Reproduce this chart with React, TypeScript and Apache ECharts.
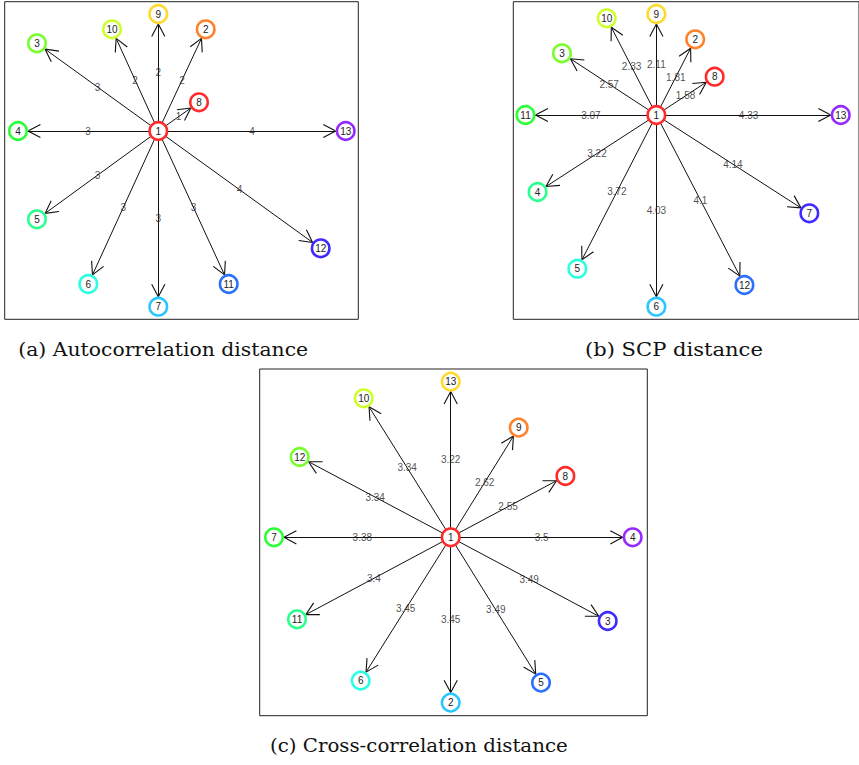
import React, { useEffect, useRef } from 'react';
import * as echarts from 'echarts';

// Panel (a) Autocorrelation distance — nodes in rank order (nearest first)
const autoNodes = ['8', '2', '9', '10', '3', '4', '5', '6', '7', '11', '12', '13'];
const autoDist = [1, 2, 2, 2, 3, 3, 3, 3, 3, 3, 4, 4];
const autoX = [40.7, 47.4, 0, -46.3, -121.3, -140.3, -121.3, -70, 0, 70.4, 162.4, 187.4];
const autoY = [28.7, 101.7, 117, 101.7, 87.7, 0, -88.3, -153, -175.7, -153, -117.3, 0];

// Panel (b) SCP distance
const scpNodes = ['8', '2', '9', '10', '3', '11', '4', '5', '6', '12', '7', '13'];
const scpDist = [1.58, 1.81, 2.11, 2.33, 2.57, 3.07, 3.22, 3.72, 4.03, 4.1, 4.14, 4.33];
const scpX = [60.7, 40.4, 0, -51.7, -98.3, -136.3, -123.7, -82.3, 0, 91.7, 159.3, 192];
const scpY = [38.3, 75.7, 101, 96.7, 61.7, 0, -77, -153.7, -191.7, -170, -98.3, 0];

// Panel (c) Cross-correlation distance
const crossNodes = ['8', '9', '13', '10', '12', '7', '11', '6', '2', '5', '3', '4'];
const crossDist = [2.55, 2.62, 3.22, 3.34, 3.34, 3.38, 3.4, 3.45, 3.45, 3.49, 3.49, 3.5];
const crossX = [114.7, 68, 0, -87, -151, -176.7, -153.7, -90, 0, 90.3, 157, 182];
const crossY = [61.3, 109.7, 155.7, 139, 80.3, 0, -82, -143.3, -165.3, -145.3, -83.7, 0];

const centerNode = '1';
const captions = ['(a) Autocorrelation distance', '(b) SCP distance', '(c) Cross-correlation distance'];

function hsvHex(h: number, s: number, v: number): string {
  const f = (n: number) => {
    const k = (n + h / 60) % 6;
    const c = v - v * s * Math.max(0, Math.min(k, 4 - k, 1));
    return Math.round(c * 255).toString(16).padStart(2, '0');
  };
  return '#' + f(5) + f(3) + f(1);
}

const rankColor = (k: number) => hsvHex((k * 270) / 11, 0.83, 1);

// Open arrow head, tip placed at the node ring
const ARROW =
  'path://M0.49,-0.26 L7.09,12.14 L6.11,12.66 L-0.49,0.26 Z M-0.49,-0.26 L-7.09,12.14 L-6.11,12.66 L0.49,0.26 Z M-13.91,-15.16 L13.91,-15.16';
const ARROW_SIZE = 27.82;

const SANS = '"Liberation Sans", Arial, sans-serif';
const SERIF = '"DejaVu Serif", serif';

export default function App() {
  const ref = useRef<HTMLDivElement>(null);
  useEffect(() => {
    if (!ref.current) return;
    const chart = echarts.init(ref.current, undefined, { renderer: 'svg' });

    const panels = [
      { nodes: autoNodes, dist: autoDist, xs: autoX, ys: autoY,
        grid: { left: 4.7, top: 1.7, width: 353.6, height: 317.6 }, xr: [-153.6, 200], yr: [-188.3, 129.3] },
      { nodes: scpNodes, dist: scpDist, xs: scpX, ys: scpY,
        grid: { left: 513.3, top: 1.7, width: 360, height: 317.6 }, xr: [-149, 211], yr: [-204.3, 113.3] },
      { nodes: crossNodes, dist: crossDist, xs: crossX, ys: crossY,
        grid: { left: 259.7, top: 369, width: 387.6, height: 346.7 }, xr: [-191, 196.6], yr: [-178.4, 168.3] },
    ];

    const hidden = {
      show: true,
      axisLine: { show: false },
      axisTick: { show: false },
      axisLabel: { show: false },
      splitLine: { show: false },
    };

    const series: any[] = [];
    panels.forEach((p, i) => {
      const nodeData = [
        { name: centerNode, value: [0, 0], itemStyle: { color: '#fff', borderColor: rankColor(0), borderWidth: 2.6 } },
        ...p.nodes.map((n, k) => ({
          name: n,
          value: [p.xs[k], p.ys[k]],
          itemStyle: { color: '#fff', borderColor: rankColor(k), borderWidth: 2.6 },
        })),
      ];
      series.push({
        type: 'graph',
        coordinateSystem: 'cartesian2d',
        xAxisIndex: i,
        yAxisIndex: i,
        layout: 'none',
        silent: true,
        symbol: 'circle',
        symbolSize: 17.5,
        z: 3,
        data: nodeData,
        links: p.nodes.map((n) => ({ source: centerNode, target: n })),
        edgeSymbol: ['none', ARROW],
        edgeSymbolSize: ARROW_SIZE,
        lineStyle: { color: '#111', width: 1, opacity: 1, curveness: 0 },
        label: {
          show: true, position: 'inside', formatter: '{b}', fontSize: 10, color: '#222', fontFamily: SANS,
          textBorderWidth: 0, textBorderColor: 'transparent',
        },
        emphasis: { disabled: true },
      });
      series.push({
        type: 'scatter',
        xAxisIndex: i,
        yAxisIndex: i,
        silent: true,
        symbol: 'circle',
        symbolSize: 0,
        z: 4,
        itemStyle: { color: '#222' },
        data: p.nodes.map((n, k) => [p.xs[k] / 2, p.ys[k] / 2, p.dist[k]]),
        label: {
          show: true,
          position: 'right',
          distance: 0,
          align: 'center',
          verticalAlign: 'middle',
          formatter: (q: any) => String(q.value[2]),
          fontSize: 10,
          color: '#222',
          fontFamily: SANS,
        },
        emphasis: { disabled: true },
      });
    });

    // caption layout: left x, target width, vertical centre
    const capLeft = [18.3, 585, 270];
    const capWidth = [290, 178, 298];
    const capY = [350, 350, 745.5];
    const ctx = document.createElement('canvas').getContext('2d')!;
    ctx.font = '18px ' + SERIF;

    chart.setOption({
      animation: false,
      backgroundColor: '#fff',
      grid: panels.map((p) => ({ ...p.grid, show: true, borderColor: '#222', borderWidth: 1, backgroundColor: '#fff', containLabel: false })),
      xAxis: panels.map((p, i) => ({ type: 'value', gridIndex: i, min: p.xr[0], max: p.xr[1], ...hidden })),
      yAxis: panels.map((p, i) => ({ type: 'value', gridIndex: i, min: p.yr[0], max: p.yr[1], ...hidden })),
      series,
      graphic: captions.map((t, i) => {
        const w = ctx.measureText(t).width || capWidth[i];
        return {
          type: 'text',
          x: capLeft[i],
          y: capY[i],
          scaleX: capWidth[i] / w,
          silent: true,
          style: {
            text: t,
            font: '18px ' + SERIF,
            fill: '#111',
            textAlign: 'left',
            textVerticalAlign: 'middle',
            align: 'left',
            verticalAlign: 'middle',
          },
        };
      }),
    });
    return () => chart.dispose();
  }, []);
  return <div ref={ref} style={{ position: 'absolute', left: 0, top: 0, width: 859, height: 765 }} />;
}
